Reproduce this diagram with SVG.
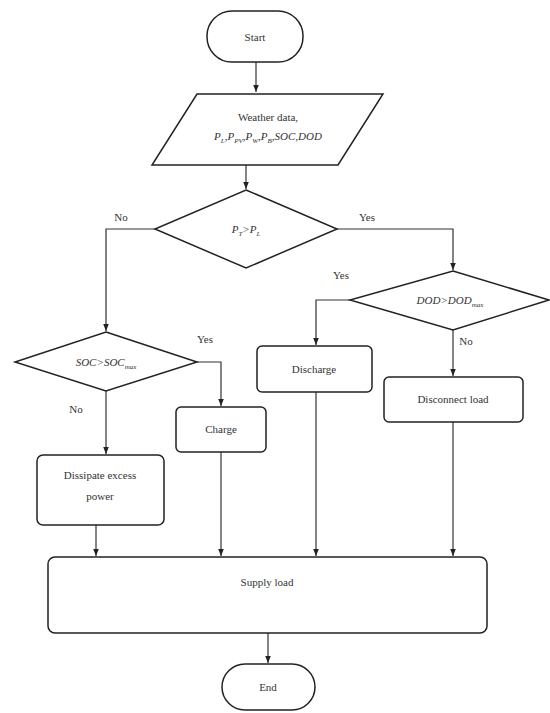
<svg xmlns="http://www.w3.org/2000/svg" width="550" height="713" viewBox="0 0 550 713">
<defs>
<marker id="arr" viewBox="0 0 10 10" refX="10" refY="5" markerWidth="7" markerHeight="7" orient="auto" markerUnits="userSpaceOnUse">
<path d="M0,1 L10,5 L0,9 Z" fill="#222"/>
</marker>
<style>
.shape{fill:#fff;stroke:#222;stroke-width:1.5}
.line{fill:none;stroke:#333;stroke-width:1.2}
text{font-family:"Liberation Serif","Times New Roman",serif;font-size:11px;fill:#333;text-anchor:middle}
.it{font-style:italic}
.lbl{font-size:11px}
</style>
</defs>
<rect width="550" height="713" fill="#fff"/>
<g id="connectors">
<path class="line" d="M256,62 V92" marker-end="url(#arr)"/>
<path class="line" d="M246,165 V189" marker-end="url(#arr)"/>
<path class="line" d="M155,229 H106 V331" marker-end="url(#arr)"/>
<path class="line" d="M337,229 H453 V270" marker-end="url(#arr)"/>
<path class="line" d="M350,300 H316 V345" marker-end="url(#arr)"/>
<path class="line" d="M453,330 V376" marker-end="url(#arr)"/>
<path class="line" d="M197,362 H221 V406" marker-end="url(#arr)"/>
<path class="line" d="M106,391 V454" marker-end="url(#arr)"/>
<path class="line" d="M96,525 V556" marker-end="url(#arr)"/>
<path class="line" d="M221,452 V556" marker-end="url(#arr)"/>
<path class="line" d="M316,392 V556" marker-end="url(#arr)"/>
<path class="line" d="M453,422 V556" marker-end="url(#arr)"/>
<path class="line" d="M268,633 V663" marker-end="url(#arr)"/>
<text x="121" y="221" class="lbl">No</text>
<text x="367" y="221" class="lbl">Yes</text>
<text x="341" y="279" class="lbl">Yes</text>
<text x="466" y="345" class="lbl">No</text>
<text x="205" y="343" class="lbl">Yes</text>
<text x="76" y="413" class="lbl">No</text>
</g>
<g id="start">
<rect class="shape" x="207" y="11" width="96" height="51" rx="25" ry="25"/>
<text x="255" y="41">Start</text>
</g>
<g id="input">
<polygon class="shape" points="197,94 383,94 338,165 152,165"/>
<text x="268" y="121">Weather data,</text>
<text x="268" y="140" class="it">P<tspan font-size="7" dy="3">L</tspan><tspan dy="-3">,P</tspan><tspan font-size="7" dy="3">PV</tspan><tspan dy="-3">,P</tspan><tspan font-size="7" dy="3">W</tspan><tspan dy="-3">,P</tspan><tspan font-size="7" dy="3">B</tspan><tspan dy="-3">,SOC,DOD</tspan></text>
</g>
<g id="decision1">
<polygon class="shape" points="246,190 337,229 246,268 155,229"/>
<text x="246" y="233" class="it">P<tspan font-size="7" dy="3">T</tspan><tspan dy="-3">&gt;P</tspan><tspan font-size="7" dy="3">L</tspan></text>
</g>
<g id="decision-dod">
<polygon class="shape" points="453,271 549,300 453,330 350,300"/>
<text x="450" y="304" class="it">DOD&gt;DOD<tspan font-size="7" dy="3">max</tspan></text>
</g>
<g id="decision-soc">
<polygon class="shape" points="106,332 197,362 106,391 15,362"/>
<text x="106" y="366" class="it">SOC&gt;SOC<tspan font-size="7" dy="3">max</tspan></text>
</g>
<g id="discharge">
<rect class="shape" x="257" y="346" width="115" height="46" rx="5"/>
<text x="314" y="373">Discharge</text>
</g>
<g id="disconnect">
<rect class="shape" x="384" y="377" width="139" height="45" rx="5"/>
<text x="453" y="403">Disconnect load</text>
</g>
<g id="charge">
<rect class="shape" x="176" y="407" width="90" height="45" rx="5"/>
<text x="221" y="433">Charge</text>
</g>
<g id="dissipate">
<rect class="shape" x="37" y="455" width="127" height="70" rx="6"/>
<text x="100" y="479">Dissipate excess</text>
<text x="100" y="500">power</text>
</g>
<g id="supply">
<rect class="shape" x="48" y="557" width="439" height="76" rx="7"/>
<text x="267" y="586">Supply load</text>
</g>
<g id="end">
<rect class="shape" x="222" y="664" width="93" height="46" rx="23" ry="23"/>
<text x="268" y="691">End</text>
</g>
</svg>
